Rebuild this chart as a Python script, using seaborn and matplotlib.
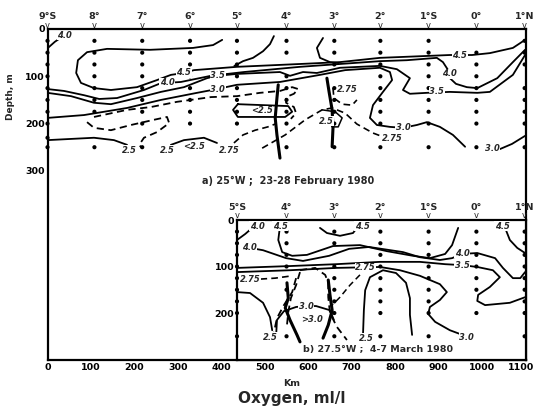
import numpy as np
import pandas as pd
import matplotlib
matplotlib.use("Agg")
import matplotlib.pyplot as plt
import matplotlib.transforms as mtransforms
import seaborn as sns

# ---------------- station grid ----------------
lat_labels_a = ["9°S", "8°", "7°", "6°", "5°", "4°", "3°", "2°", "1°S", "0°", "1°N"]
lat_km_a = [0, 108, 218, 328, 436, 550, 660, 766, 877, 987, 1098]
lat_labels_b = ["5°S", "4°", "3°", "2°", "1°S", "0°", "1°N"]
lat_km_b = [436, 550, 660, 766, 877, 987, 1098]

# sample depths (m) for each station column
depths_a = [
    [25, 50, 75, 100, 125, 150, 175, 200, 230, 250],
    [25, 50, 75, 100, 125, 150, 175, 250],
    [25, 50, 75, 100, 125, 150, 175, 200, 250],
    [25, 50, 75, 100, 125, 150, 175, 200],
    [25, 50, 75, 100, 125, 150, 175, 200],
    [25, 50, 100, 125, 150, 175, 200, 250],
    [25, 50, 75, 125, 150, 175, 200, 250],
    [25, 50, 75, 100, 125, 150, 175, 200, 250],
    [25, 50, 75, 100, 125, 150, 175, 200, 250],
    [50, 75, 100, 125, 150, 175, 200, 250],
    [25, 50, 75, 125, 150, 175, 200, 250],
]
depths_b = [
    [25, 50, 75, 100, 125, 150, 175, 200, 250],
    [25, 50, 75, 100, 150, 250],
    [25, 50, 100, 125, 150, 175, 200, 250],
    [25, 50, 75, 100, 125, 150, 175, 200, 250],
    [25, 50, 75, 100, 125, 150, 175, 200, 250],
    [25, 50, 75, 100, 125, 150, 200],
    [25, 50, 75, 100, 125, 150, 175, 200, 250],
]

# ---------------- section a) 25°W contours (km, depth m) ----------------
a_40_top_km = [1, 17, 33]
a_40_top_m = [40, 27, 17]
a_45_km = [402, 381, 335, 236, 137, 91, 70, 66, 77, 107, 146, 206, 252, 284, 314, 337, 436, 581, 673, 765, 873, 926, 977, 1018, 1071, 1099]
a_45_m = [23, 34, 40, 44, 42, 49, 66, 93, 114, 125, 129, 123, 108, 97, 93, 87, 80, 74, 70, 61, 57, 55, 55, 51, 40, 23]
a_45b_km = [430, 450, 473, 496, 512, 521]
a_45b_m = [78, 68, 61, 47, 32, 15]
a_45c_km = [634, 620, 627, 650, 670]
a_45c_m = [19, 40, 61, 70, 72]
a_40_km = [0, 38, 84, 119, 160, 222, 257, 275, 307, 376, 452, 581, 673, 765, 827, 896, 910, 922, 926, 940, 965, 989, 1035, 1071, 1099]
a_40_m = [127, 131, 140, 148, 146, 129, 116, 114, 112, 99, 91, 80, 74, 68, 66, 61, 70, 87, 104, 116, 123, 125, 104, 70, 44]
a_35_km = [0, 54, 107, 146, 206, 261, 314, 367, 390, 436, 535, 558, 588, 620, 673, 765, 804, 834, 818, 834, 873, 926, 989, 1018, 1071, 1099]
a_35_m = [135, 142, 156, 159, 146, 133, 123, 104, 99, 95, 91, 99, 91, 93, 82, 78, 85, 104, 129, 137, 135, 133, 135, 133, 97, 55]
a_30_km = [0, 84, 183, 261, 344, 390, 436, 535, 627, 685, 765, 788, 793, 772, 749, 742, 758, 788, 818, 850, 873, 903, 933, 961]
a_30_m = [188, 182, 167, 150, 135, 127, 118, 112, 97, 87, 82, 91, 108, 133, 161, 188, 203, 207, 209, 203, 197, 207, 224, 249]
a_30r_km = [1041, 1069, 1099]
a_30r_m = [254, 243, 226]
a_25_left_km = [0, 107, 153, 183]
a_25_left_m = [235, 230, 235, 245]
a_25_arc_km = [284, 314, 360, 390]
a_25_arc_m = [245, 235, 230, 241]
a_lt25_km = [438, 427, 438, 547, 563, 554, 438]
a_lt25_m = [159, 171, 186, 186, 175, 163, 159]
a_25_small_km = [632, 662, 678, 669, 655, 650]
a_25_small_m = [171, 175, 188, 207, 207, 197]
a_275_main_km = [107, 183, 238, 298, 376, 436, 489, 535, 563, 577, 567, 549, 549, 567, 572, 560]
a_275_main_m = [186, 171, 165, 154, 144, 142, 135, 131, 123, 127, 137, 144, 156, 165, 178, 190]
a_275_loop_km = [91, 107, 146, 192, 245, 275, 280, 252, 222, 211, 217]
a_275_loop_m = [197, 209, 214, 203, 192, 186, 199, 218, 230, 245, 252]
a_275_low_km = [429, 450, 478, 507, 524]
a_275_low_m = [241, 224, 214, 207, 201]
a_275_long_km = [494, 547, 593, 632, 655, 685, 712, 749, 772]
a_275_long_m = [252, 224, 192, 171, 167, 178, 201, 220, 228]
a_275_small_km = [657, 659, 678, 701, 712]
a_275_small_m = [125, 146, 159, 161, 150]
a_thick4_km = [531, 528, 524, 528, 535]
a_thick4_m = [118, 146, 188, 224, 273]
a_thick3_km = [643, 648, 655, 657, 655]
a_thick3_m = [104, 133, 171, 209, 249]

a_label_text = ["4.0", "4.5", "4.0", "3.5", "3.0", "2.5", "2.5", "<2.5", "2.75", "<2.5", "2.75", "2.5", "2.75", "3.0", "3.5", "4.0", "4.5", "3.0"]
a_label_km = [40, 314, 275, 392, 392, 188, 275, 337, 418, 494, 690, 641, 793, 818, 896, 926, 949, 1023]
a_label_m = [14, 93, 114, 99, 127, 256, 256, 249, 258, 173, 129, 195, 232, 209, 133, 95, 55, 252]

# ---------------- section b) 27.5°W contours ----------------
b_40_top_km = [436, 455, 471]
b_40_top_m = [43, 30, 17]
b_45_km = [535, 531, 540, 563, 597, 657, 719, 781, 841, 880, 915, 931, 945]
b_45_m = [13, 43, 69, 77, 75, 56, 54, 67, 77, 82, 73, 54, 17]
b_45_arc_km = [627, 643, 673, 703, 712]
b_45_arc_m = [17, 28, 34, 28, 17]
b_45_n_km = [1053, 1064, 1081, 1099]
b_45_n_m = [17, 43, 60, 71]
b_40_km = [478, 496, 549, 588, 648, 694, 740, 818, 857, 903, 931, 954, 989, 1030, 1048, 1071, 1088, 1099]
b_40_m = [62, 65, 82, 88, 77, 62, 58, 69, 80, 86, 82, 73, 71, 82, 103, 125, 125, 112]
b_35_km = [436, 558, 664, 765, 857, 915, 954, 989, 1025, 1041, 1018, 991, 989, 1007, 1064, 1099]
b_35_m = [103, 99, 95, 90, 90, 95, 97, 101, 108, 123, 144, 161, 174, 183, 178, 166]
b_30r_km = [436, 558, 664, 765, 811, 857, 903, 919, 903, 880, 876, 892, 926, 949]
b_30r_m = [112, 108, 103, 101, 108, 120, 138, 155, 172, 187, 202, 219, 237, 245]
b_30_mid_km = [526, 528, 544, 572, 595, 618, 650, 659]
b_30_mid_m = [249, 215, 196, 187, 185, 185, 194, 215]
b_25_left_km = [436, 466, 496, 512, 517]
b_25_left_m = [155, 157, 178, 209, 237]
b_25_u_km = [726, 728, 731, 742, 772, 802, 825, 834, 834, 839]
b_25_u_m = [247, 194, 151, 123, 108, 114, 135, 168, 204, 247]
b_275_left_km = [490, 524, 563]
b_275_left_m = [127, 125, 120]
b_d1_km = [572, 563, 544, 528, 521]
b_d1_m = [125, 155, 183, 211, 241]
b_d2_km = [581, 572, 560, 554, 551]
b_d2_m = [112, 140, 168, 198, 226]
b_d3_km = [581, 616, 639, 646, 646, 650, 666, 689]
b_d3_m = [108, 103, 118, 135, 166, 200, 230, 258]
b_d4_km = [719, 696, 673, 655]
b_d4_m = [118, 140, 166, 183]
b_thick4_km = [551, 554, 547, 558, 574, 581]
b_thick4_m = [135, 168, 189, 215, 247, 262]
b_thick3_km = [646, 650, 655, 646, 634]
b_thick3_m = [129, 161, 194, 226, 254]

b_label_text = ["4.0", "4.5", "4.5", "4.5", "4.0", "2.75", "2.75", "3.0", ">3.0", "2.5", "2.5", "4.0", "3.5", "3.0"]
b_label_km = [482, 535, 724, 1046, 464, 466, 731, 595, 609, 512, 733, 954, 954, 965]
b_label_m = [13, 13, 13, 13, 60, 129, 103, 185, 215, 252, 254, 71, 97, 252]

x_ticks = [0, 100, 200, 300, 400, 500, 600, 700, 800, 900, 1000, 1100]
x_minor = [50, 150, 250, 350, 450, 550, 650, 750, 850, 950, 1050]
y_ticks_a = [0, 100, 200, 300]
y_ticks_b = [0, 100, 200]

# ---------------- figure ----------------
sns.set_style("white")
plt.rcParams['font.family'] = ['DejaVu Sans']

fig = plt.figure(figsize=(5.34, 4.08), dpi=100)
ax = fig.add_axes([47.5 / 534, 1 - 360 / 408, 478 / 534, 331 / 408])
axb = fig.add_axes([237 / 534, 1 - 360 / 408, (525.5 - 237) / 534, 140 / 408])

SOLID = '-'
DASH = (0, (4, 2.5))
a_lines = [
    (a_40_top_km, a_40_top_m, SOLID, 1.3), (a_45_km, a_45_m, SOLID, 1.3),
    (a_45b_km, a_45b_m, SOLID, 1.3), (a_45c_km, a_45c_m, SOLID, 1.3),
    (a_40_km, a_40_m, SOLID, 1.3), (a_35_km, a_35_m, SOLID, 1.3),
    (a_30_km, a_30_m, SOLID, 1.3), (a_30r_km, a_30r_m, SOLID, 1.3),
    (a_25_left_km, a_25_left_m, SOLID, 1.3), (a_25_arc_km, a_25_arc_m, SOLID, 1.3),
    (a_lt25_km, a_lt25_m, SOLID, 1.3), (a_25_small_km, a_25_small_m, SOLID, 1.1),
    (a_275_main_km, a_275_main_m, DASH, 1.3), (a_275_loop_km, a_275_loop_m, DASH, 1.3),
    (a_275_low_km, a_275_low_m, DASH, 1.2), (a_275_long_km, a_275_long_m, DASH, 1.2),
    (a_275_small_km, a_275_small_m, DASH, 1.2),
    (a_thick4_km, a_thick4_m, SOLID, 2.2), (a_thick3_km, a_thick3_m, SOLID, 2.2),
]
b_lines = [
    (b_40_top_km, b_40_top_m, SOLID, 1.3), (b_45_km, b_45_m, SOLID, 1.3),
    (b_45_arc_km, b_45_arc_m, SOLID, 1.3), (b_45_n_km, b_45_n_m, SOLID, 1.3),
    (b_40_km, b_40_m, SOLID, 1.3), (b_35_km, b_35_m, SOLID, 1.3),
    (b_30r_km, b_30r_m, SOLID, 1.3), (b_30_mid_km, b_30_mid_m, SOLID, 1.3),
    (b_25_left_km, b_25_left_m, SOLID, 1.3), (b_25_u_km, b_25_u_m, SOLID, 1.3),
    (b_275_left_km, b_275_left_m, DASH, 1.2), (b_d1_km, b_d1_m, DASH, 1.3),
    (b_d2_km, b_d2_m, DASH, 1.3), (b_d3_km, b_d3_m, DASH, 1.3), (b_d4_km, b_d4_m, DASH, 1.1),
    (b_thick4_km, b_thick4_m, SOLID, 2.2), (b_thick3_km, b_thick3_m, SOLID, 2.2),
]

for axis, lines in ((ax, a_lines), (axb, b_lines)):
    for xs, ys, ls, lw in lines:
        sns.lineplot(x=xs, y=ys, sort=False, estimator=None, ax=axis,
                     color='black', linewidth=lw, linestyle=ls, legend=False)

# stations
sa = pd.DataFrame([(k, d) for k, ds in zip(lat_km_a, depths_a) for d in ds], columns=['km', 'm'])
sb = pd.DataFrame([(k, d) for k, ds in zip(lat_km_b, depths_b) for d in ds], columns=['km', 'm'])
sns.scatterplot(data=sa, x='km', y='m', ax=ax, color='black', s=9, edgecolor='none',
                legend=False, clip_on=False, zorder=4)
sns.scatterplot(data=sb, x='km', y='m', ax=axb, color='black', s=9, edgecolor='none',
                legend=False, clip_on=False, zorder=4)

lab_kw = dict(fontsize=6, fontstyle='italic', fontweight='bold', ha='center', va='center',
              bbox=dict(facecolor='white', edgecolor='none', pad=0.2), zorder=5)
for t, k, m in zip(a_label_text, a_label_km, a_label_m):
    ax.text(k, m, t, **lab_kw)
for t, k, m in zip(b_label_text, b_label_km, b_label_m):
    axb.text(k, m, t, **lab_kw)

ax.text(553, 321, "a) 25°W ;  23-28 February 1980", fontsize=7, fontweight='bold',
        ha='center', va='center')
axb.text(761, 278, "b) 27.5°W ;  4-7 March 1980", fontsize=6.8, fontweight='bold',
         ha='center', va='center', bbox=dict(facecolor='white', edgecolor='none', pad=0.5), zorder=6)

# axes formatting
for axis, ylim, yt, xlim in ((ax, (700, 0), y_ticks_a, (0, 1100)),
                             (axb, (301, 0), y_ticks_b, (436, 1100))):
    axis.set_xticks([t for t in x_ticks if xlim[0] <= t <= xlim[1]])
    axis.set_xticks([t for t in x_minor if xlim[0] <= t <= xlim[1]], minor=True)
    axis.set_yticks(yt)
    axis.set_yticklabels([str(v) for v in yt])
    axis.set_xlim(*xlim)
    axis.set_ylim(*ylim)
    axis.set_xlabel("")
    axis.set_ylabel("")
    for s in axis.spines.values():
        s.set_linewidth(1.6)
        s.set_color('black')
    axis.tick_params(axis='both', which='major', direction='in', length=4, width=1.3,
                     labelsize=6.8, pad=2, colors='black')
    axis.tick_params(axis='x', which='minor', direction='in', length=2.5, width=1.1)
    axis.tick_params(axis='y', which='minor', left=False)
    for lbl in axis.get_yticklabels() + axis.get_xticklabels():
        lbl.set_fontweight('bold')

ax.set_xticklabels([str(v) for v in x_ticks], fontweight='bold')
last = ax.get_xticklabels()[-1]
last.set_transform(last.get_transform() + mtransforms.ScaledTranslation(-4 / 100, 0, fig.dpi_scale_trans))
axb.tick_params(axis='x', labelbottom=False)
axb.set_facecolor('white')
ax.set_facecolor('white')

# latitude headers
tra = mtransforms.blended_transform_factory(ax.transData, ax.transAxes)
for lbl, k in zip(lat_labels_a, lat_km_a):
    ax.text(k, 1.037, lbl, transform=tra, ha='center', va='center', fontsize=6.8,
            fontweight='bold', clip_on=False)
    ax.text(k, 1.011, "v", transform=tra, ha='center', va='center', fontsize=6,
            clip_on=False)
trb = mtransforms.blended_transform_factory(axb.transData, axb.transAxes)
for lbl, k in zip(lat_labels_b, lat_km_b):
    axb.text(k, 1.09, lbl, transform=trb, ha='center', va='center', fontsize=6.8,
             fontweight='bold', clip_on=False)
    axb.text(k, 1.03, "v", transform=trb, ha='center', va='center', fontsize=6,
             clip_on=False)

fig.text(11 / 534, 1 - 97 / 408, "Depth, m", rotation=90, ha='center', va='center',
         fontsize=6.5, fontweight='bold')
fig.text(292 / 534, 1 - 383 / 408, "Km", ha='center', va='center', fontsize=6.8,
         fontweight='bold')
fig.text(292 / 534, 1 - 398 / 408, "Oxygen, ml/l", ha='center', va='center', fontsize=11,
         fontweight='bold')

fig.savefig("out.png", dpi=100)
